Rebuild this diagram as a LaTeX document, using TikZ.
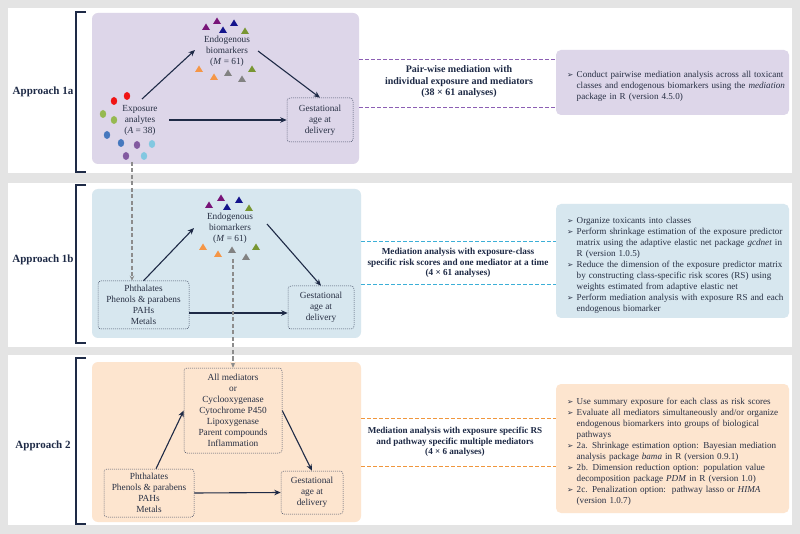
\documentclass[tikz,border=0pt]{standalone}
\usepackage{fontspec}
\setmainfont{Liberation Serif}
\newfontfamily\symfont{DejaVu Sans}
\usetikzlibrary{arrows.meta}
\definecolor{bggray}{RGB}{228,228,228}
\definecolor{ink}{RGB}{30,42,70}
\definecolor{txt}{RGB}{40,48,68}
\definecolor{pfill}{RGB}{221,214,233}
\definecolor{pline}{RGB}{140,95,180}
\definecolor{bfill}{RGB}{215,231,239}
\definecolor{bline}{RGB}{60,175,215}
\definecolor{ofill}{RGB}{253,229,207}
\definecolor{oline}{RGB}{240,150,60}
\definecolor{gline}{RGB}{140,140,140}
\definecolor{tpurple}{RGB}{120,20,120}
\definecolor{tblue}{RGB}{20,20,140}
\definecolor{tgreen}{RGB}{120,150,50}
\definecolor{torange}{RGB}{245,150,70}
\definecolor{tgray}{RGB}{130,130,130}
\definecolor{dred}{RGB}{240,20,20}
\definecolor{dgreen}{RGB}{150,185,80}
\definecolor{dblue}{RGB}{70,120,190}
\definecolor{dpurple}{RGB}{130,90,160}
\definecolor{dlblue}{RGB}{130,200,225}
\newcommand\mtri[3]{\fill[#3] (#1,#2) ++(-4,3) -- ++(8,0) -- ++(-4,-6.5) -- cycle;}
\newcommand\mdot[3]{\fill[#3] (#1,#2) ellipse [x radius=3.2, y radius=4];}
\newcommand\bitem[1]{\par\hangindent=9.5pt\hangafter=1\noindent\makebox[9.5pt][l]{{\symfont\fontsize{7.5}{7.5}\selectfont ➢}}#1\par}
\begin{document}
\begin{tikzpicture}[x=1pt,y=-1pt,
  diag/.style={font=\fontsize{9.3}{11}\selectfont, text=txt, align=center, inner sep=0pt},
  dbox/.style={diag, draw=ink!85, dash pattern=on 1pt off 1pt, rounded corners=3pt, line width=0.5pt},
  bgbox/.style={rounded corners=6pt, inner sep=0pt},
  desc/.style={font=\fontsize{9.1}{11}\selectfont, text=txt, text width=240pt, align=left, inner sep=0pt, anchor=west},
  mid/.style={text=ink, align=center, inner sep=0pt},
  appr/.style={font=\fontsize{11}{12}\selectfont\bfseries, text=ink, inner sep=0pt},
  arr/.style={-{Stealth[length=6.5pt,width=5.5pt]}, ink, line width=1.1pt},
  garr/.style={gline, line width=1.2pt, dash pattern=on 4pt off 2.5pt, -{Stealth[length=5pt,width=4.5pt]}},
  brk/.style={ink, line width=1.2pt},
  dl/.style={line width=0.9pt, dash pattern=on 4pt off 2pt}]
\fill[bggray] (0,0) rectangle (800,534);
\useasboundingbox (0,0) rectangle (800,534);
\fill[white] (8,8) rectangle (792,173);
\fill[white] (8,183) rectangle (792,347);
\fill[white] (8,355) rectangle (792,525);
% brackets
\draw[brk] (86,12) -- (76,12) -- (76,172) -- (86,172);
\draw[brk] (86,185) -- (76,185) -- (76,343) -- (86,343);
\draw[brk] (86,358) -- (76,358) -- (76,524) -- (86,524);
\node[appr] (ap1a) at (43,92) {Approach 1a};
\node[appr] (ap1b) at (43,260) {Approach 1b};
\node[appr] (ap2) at (43,446) {Approach 2};
% background boxes
\node[bgbox, fill=pfill, minimum width=267pt, minimum height=151pt] (bg1a) at (225.5,88.5) {};
\node[bgbox, fill=bfill, minimum width=269pt, minimum height=149pt] (bg1b) at (226.5,263.5) {};
\node[bgbox, fill=ofill, minimum width=269pt, minimum height=160pt] (bg2) at (226.5,442) {};
% description boxes
\node[bgbox, rounded corners=5pt, fill=pfill, minimum width=233pt, minimum height=65pt] (d1a) at (672.5,82.5) {};
\node[bgbox, rounded corners=5pt, fill=bfill, minimum width=233pt, minimum height=114pt] (d1b) at (672.5,261) {};
\node[bgbox, rounded corners=5pt, fill=ofill, minimum width=233pt, minimum height=129pt] (d2) at (672.5,448.5) {};
\node[desc] (t1a) at (567,84) {\bitem{Conduct pairwise mediation analysis across all toxicant\newline classes and endogenous biomarkers using the \textit{mediation}\newline package in R (version 4.5.0)}};
\node[desc] (t1b) at (567,262.5) {\bitem{Organize toxicants into classes}
\bitem{Perform shrinkage estimation of the exposure predictor\newline matrix using the adaptive elastic net package \textit{gcdnet} in\newline R (version 1.0.5)}
\bitem{Reduce the dimension of the exposure predictor matrix\newline by constructing class-specific risk scores (RS) using\newline weights estimated from adaptive elastic net}
\bitem{Perform mediation analysis with exposure RS and each\newline endogenous biomarker}};
\node[desc] (t2) at (567,449.5) {\bitem{Use summary exposure for each class as risk scores}
\bitem{Evaluate all mediators simultaneously and/or organize\newline endogenous biomarkers into groups of biological\newline pathways}
\bitem{2a. Shrinkage estimation option: Bayesian mediation\newline analysis package \textit{bama} in R (version 0.9.1)}
\bitem{2b. Dimension reduction option: population value\newline decomposition package \textit{PDM} in R (version 1.0)}
\bitem{2c. Penalization option:\ \ pathway lasso or \textit{HIMA}\newline (version 1.0.7)}};
% middle labels and dashed lines
\node[mid, font=\fontsize{10}{11.5}\selectfont\bfseries] (m1a) at (459,82) {Pair-wise mediation with\\individual exposure and mediators\\(38 × 61 analyses)};
\node[mid, font=\fontsize{9.2}{10.2}\selectfont\bfseries] (m1b) at (458,263) {Mediation analysis with exposure-class\\specific risk scores and one mediator at a time\\(4 × 61 analyses)};
\node[mid, font=\fontsize{9.1}{10.5}\selectfont\bfseries] (m2) at (455,442) {Mediation analysis with exposure specific RS\\and pathway specific multiple mediators\\(4 × 6 analyses)};
\coordinate (p1) at (359,59); \coordinate (p2) at (556,59);
\coordinate (p3) at (359,107); \coordinate (p4) at (556,107);
\draw[dl, pline] (p1) -- (p2); \draw[dl, pline] (p3) -- (p4);
\coordinate (b1) at (361,241); \coordinate (b2) at (556,241);
\coordinate (b3) at (361,284); \coordinate (b4) at (556,284);
\draw[dl, bline] (b1) -- (b2); \draw[dl, bline] (b3) -- (b4);
\coordinate (o1) at (361,418); \coordinate (o2) at (556,418);
\coordinate (o3) at (361,466); \coordinate (o4) at (556,466);
\draw[dl, oline] (o1) -- (o2); \draw[dl, oline] (o3) -- (o4);
% ---- approach 1a
\mdot{114}{101}{dred} \mdot{127}{96}{dred}
\mdot{103}{114}{dgreen} \mdot{114}{120}{dgreen}
\mdot{107}{135}{dblue} \mdot{121}{143}{dblue}
\mdot{137}{145}{dpurple} \mdot{152}{144}{dlblue}
\mdot{126}{156}{dpurple} \mdot{144}{156}{dlblue}
\mtri{206}{27}{tpurple} \mtri{217}{21}{tpurple} \mtri{234}{23}{tblue} \mtri{223}{30}{tblue} \mtri{245}{31}{tgreen}
\mtri{199}{69}{torange} \mtri{214}{77}{torange} \mtri{228}{73}{tgray} \mtri{242}{79}{tgray} \mtri{252}{69}{tgreen}
\node[diag] (exp1a) at (140,120) {Exposure\\analytes\\(\textit{A} = 38)};
\node[diag] (end1a) at (227,51) {Endogenous\\biomarkers\\(\textit{M} = 61)};
\node[dbox, minimum width=66pt, minimum height=44pt] (gest1a) at (320,120) {Gestational\\age at\\delivery};
\coordinate (a1) at (142,99); \coordinate (a2) at (195,50);
\coordinate (a3) at (258,51); \coordinate (a5) at (169,120);
\draw[arr] (a1) -- (a2);
\draw[arr] (a3) -- (gest1a.north);
\draw[arr] (a5) -- (gest1a.west);
% ---- approach 1b
\mtri{209}{205}{tpurple} \mtri{221}{198}{tpurple} \mtri{227}{207}{tblue} \mtri{239}{200}{tblue} \mtri{249}{208}{tgreen}
\mtri{203}{247}{torange} \mtri{218}{254}{torange} \mtri{232}{250}{tgray} \mtri{246}{257}{tgray} \mtri{256}{247}{tgreen}
\node[diag] (end1b) at (230,228) {Endogenous\\biomarkers\\(\textit{M} = 61)};
\node[dbox, minimum width=91pt, minimum height=48pt] (exp1b) at (143.5,305) {Phthalates\\Phenols \& parabens\\PAHs\\Metals};
\node[dbox, minimum width=66pt, minimum height=43pt] (gest1b) at (321,307.5) {Gestational\\age at\\delivery};
\coordinate (c2) at (194,228); \coordinate (c3) at (267,224);
\draw[arr] (exp1b.north) -- (c2);
\draw[arr] (c3) -- (gest1b.north);
\draw[arr] ([yshift=-8pt]exp1b.east) -- ([yshift=-8pt]exp1b.east -| gest1b.west);
% ---- approach 2
\node[dbox, minimum width=98pt, minimum height=85pt] (allmed) at (233,410.5) {All mediators\\or\\Cyclooxygenase\\Cytochrome P450\\Lipoxygenase\\Parent compounds\\Inflammation};
\node[dbox, minimum width=90pt, minimum height=48pt] (exp2) at (149,493) {Phthalates\\Phenols \& parabens\\PAHs\\Metals};
\node[dbox, minimum width=62pt, minimum height=43pt] (gest2) at (312,492.5) {Gestational\\age at\\delivery};
\draw[arr] ([xshift=7pt]exp2.north) -- (allmed.west);
\draw[arr] (allmed.east) -- (gest2.north);
\draw[arr] (exp2.east) -- (gest2.west);
% gray dashed
\coordinate (g1) at (132,162); \coordinate (g2) at (233,259);
\draw[garr] (g1) -- ([xshift=-11.5pt]exp1b.north);
\draw[garr] (g2) -- (allmed.north);
\end{tikzpicture}
\end{document}
